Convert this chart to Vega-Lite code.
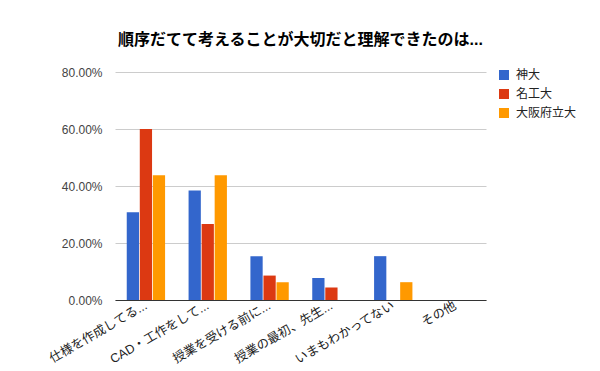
{
  "$schema": "https://vega.github.io/schema/vega-lite/v6.json",
  "autosize": {"type": "none"},
  "width": 371,
  "height": 228,
  "padding": {"left": 115, "top": 72, "right": 114, "bottom": 71},
  "background": "white",
  "title": {
    "text": "順序だてて考えることが大切だと理解できたのは...",
    "font": "'Liberation Sans', 'Noto Sans CJK JP', sans-serif",
    "fontSize": 16,
    "fontWeight": "bold",
    "color": "#000000",
    "anchor": "middle",
    "frame": "group",
    "offset": 18
  },
  "data": {
    "values": [
      {"cat": "仕様を作成してる...", "school": "神大", "v": 0.3077},
      {"cat": "仕様を作成してる...", "school": "名工大", "v": 0.60},
      {"cat": "仕様を作成してる...", "school": "大阪府立大", "v": 0.4375},
      {"cat": "CAD・工作をして...", "school": "神大", "v": 0.3846},
      {"cat": "CAD・工作をして...", "school": "名工大", "v": 0.2667},
      {"cat": "CAD・工作をして...", "school": "大阪府立大", "v": 0.4375},
      {"cat": "授業を受ける前に...", "school": "神大", "v": 0.1538},
      {"cat": "授業を受ける前に...", "school": "名工大", "v": 0.0857},
      {"cat": "授業を受ける前に...", "school": "大阪府立大", "v": 0.0625},
      {"cat": "授業の最初、先生...", "school": "神大", "v": 0.0769},
      {"cat": "授業の最初、先生...", "school": "名工大", "v": 0.0435},
      {"cat": "授業の最初、先生...", "school": "大阪府立大", "v": 0},
      {"cat": "いまもわかってない", "school": "神大", "v": 0.1538},
      {"cat": "いまもわかってない", "school": "名工大", "v": 0},
      {"cat": "いまもわかってない", "school": "大阪府立大", "v": 0.0625},
      {"cat": "その他", "school": "神大", "v": 0},
      {"cat": "その他", "school": "名工大", "v": 0},
      {"cat": "その他", "school": "大阪府立大", "v": 0}
    ]
  },
  "config": {
    "view": {"stroke": null},
    "font": "'Liberation Sans', 'Noto Sans CJK JP', sans-serif"
  },
  "mark": {"type": "bar"},
  "encoding": {
    "x": {
      "field": "cat",
      "type": "nominal",
      "sort": null,
      "scale": {"paddingInner": 0.38, "paddingOuter": 0.19},
      "axis": {
        "title": null,
        "labelAngle": -30,
        "labelAlign": "right",
        "labelBaseline": "middle",
        "labelFontSize": 12.5,
        "labelColor": "#222222",
        "labelPadding": 4,
        "ticks": false,
        "domainColor": "#333333",
        "domainWidth": 1,
        "labelLimit": 200
      }
    },
    "xOffset": {
      "field": "school",
      "type": "nominal",
      "sort": ["神大", "名工大", "大阪府立大"],
      "scale": {"paddingInner": 0.06}
    },
    "y": {
      "field": "v",
      "type": "quantitative",
      "scale": {"domain": [0, 0.8]},
      "axis": {
        "title": null,
        "values": [0, 0.2, 0.4, 0.6, 0.8],
        "format": ".2%",
        "domain": false,
        "ticks": false,
        "labelFontSize": 12,
        "labelColor": "#444444",
        "labelPadding": 13,
        "gridColor": "#cccccc",
        "gridWidth": 1
      }
    },
    "color": {
      "field": "school",
      "type": "nominal",
      "sort": ["神大", "名工大", "大阪府立大"],
      "scale": {"domain": ["神大", "名工大", "大阪府立大"], "range": ["#3366cc", "#dc3912", "#ff9900"]},
      "legend": {
        "title": null,
        "orient": "none",
        "legendX": 383,
        "legendY": -3,
        "symbolType": "square",
        "symbolSize": 100,
        "symbolStrokeWidth": 0,
        "labelFontSize": 12,
        "labelColor": "#222222",
        "rowPadding": 7,
        "labelOffset": 6
      }
    }
  }
}
